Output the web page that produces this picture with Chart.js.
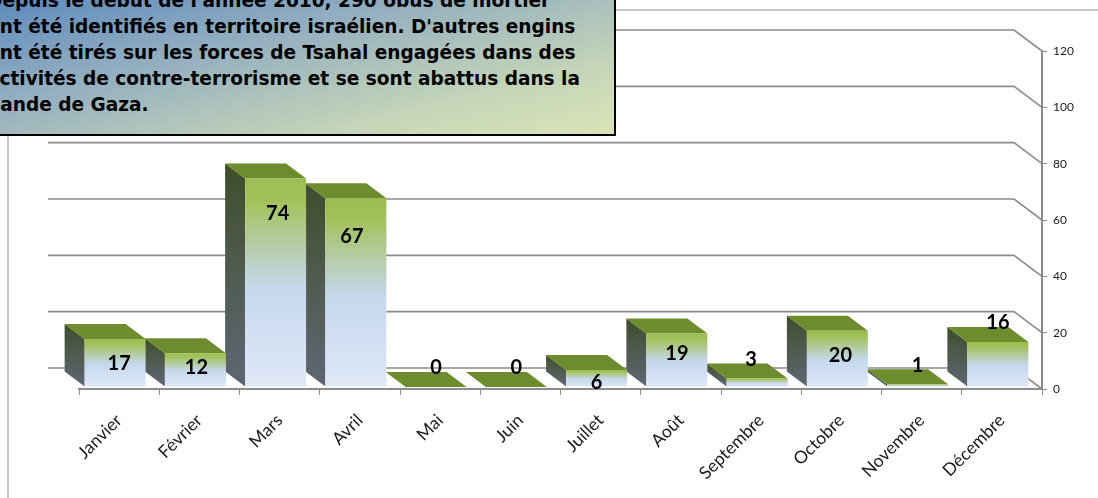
<!DOCTYPE html>
<html lang="fr">
<head>
<meta charset="utf-8">
<title>Obus de mortier 2010</title>
<script src="https://cdn.jsdelivr.net/npm/chart.js@4"></script>
<style>
  html, body { margin: 0; padding: 0; background: #fff; overflow: hidden; }
  #wrap { position: relative; width: 1098px; height: 498px; overflow: hidden; }
  #chart { position: absolute; left: 0; top: 0; }
  #note {
    position: absolute; left: -40px; top: -30px; width: 652px; height: 162px;
    border: 2px solid #000;
    background: linear-gradient(166deg, #4a7ebb 0%, #8fabc0 40%, #c5d5b8 78%, #dbe4b6 100%);
    font: bold 18.55px "DejaVu Sans", sans-serif; color: #000; white-space: nowrap;
  }
  #note div { position: absolute; left: 25px; line-height: 26px; }
</style>
</head>
<body>
<div id="wrap">
  <canvas id="chart" width="1098" height="498"></canvas>
  <div id="note"></div>
</div>
<script>
const months = ["Janvier", "Février", "Mars", "Avril", "Mai", "Juin", "Juillet", "Août", "Septembre", "Octobre", "Novembre", "Décembre"];
const obus = [17, 12, 74, 67, 0, 0, 6, 19, 3, 20, 1, 16];
const noteLines = [
  "Depuis le début de l'année 2010, 290 obus de mortier",
  "ont été identifiés en territoire israélien. D'autres engins",
  "ont été tirés sur les forces de Tsahal engagées dans des",
  "activités de contre-terrorisme et se sont abattus dans la",
  "bande de Gaza."
];

// decalage des etiquettes par rapport au haut de chaque barre
const labelDx = [0, -3, -2, -8, -4, -4, -4, -4, -10, -1, -4, -4];
const labelDy = [22, 12, 33, 36, -21, -21, 10, 18, -21, 23, -21, -21];

// le texte de l'encadre
const note = document.getElementById("note");
noteLines.forEach((line, n) => {
  const div = document.createElement("div");
  div.textContent = line;
  div.style.top = 15.5 + n * 26 + "px";
  note.appendChild(div);
});

const gray = "#8c8c8c";
const wall = { dx: 28, dy: 21 };
const depth = { dx: 20, dy: 15 };
const shift = { x: -4, y: -2 };

function frontFill(context) {
  const chart = context.chart;
  if (context.type !== "data") return "#c6d9f1";
  const top = chart.scales.y.getPixelForValue(obus[context.dataIndex]);
  const base = chart.scales.y.getPixelForValue(0);
  if (!isFinite(top) || !isFinite(base) || base - top < 1) return "#c6d9f1";
  const g = chart.ctx.createLinearGradient(0, top, 0, base);
  g.addColorStop(0, "#9bbd4f");
  g.addColorStop(0.12, "#a4c25f");
  g.addColorStop(0.52, "#c5d8ee");
  g.addColorStop(1, "#dfe8f7");
  return g;
}

// murs du fond et faces 3D des barres
const depthPlugin = {
  id: "depth",
  beforeDatasetsDraw(chart) {
    const ctx = chart.ctx;
    const yScale = chart.scales.y;
    const right = chart.chartArea.right;

    ctx.save();
    // cadre clair autour du graphique
    ctx.strokeStyle = "#c8c8c8";
    ctx.lineWidth = 2;
    ctx.beginPath();
    ctx.moveTo(610, 10);
    ctx.lineTo(1098, 10);
    ctx.moveTo(8, 130);
    ctx.lineTo(8, 498);
    ctx.stroke();

    ctx.strokeStyle = gray;
    ctx.lineWidth = 1.6;
    yScale.ticks.forEach((tick) => {
      const y = yScale.getPixelForValue(tick.value);
      ctx.beginPath();
      ctx.moveTo(48, y - wall.dy);
      ctx.lineTo(right - wall.dx, y - wall.dy);
      ctx.lineTo(right, y);
      ctx.stroke();
    });

    chart.getDatasetMeta(0).data.forEach((bar) => {
      const half = bar.width / 2;
      const x1 = bar.x - half + shift.x;
      const x2 = bar.x + half + shift.x;
      const top = bar.y + shift.y;
      const base = bar.base + shift.y;

      if (base - top > 0.5) {
        const side = ctx.createLinearGradient(0, top - depth.dy, 0, base);
        side.addColorStop(0, "#3e4d2a");
        side.addColorStop(0.45, "#4f5a4e");
        side.addColorStop(1, "#5e6673");
        ctx.fillStyle = side;
        ctx.beginPath();
        ctx.moveTo(x1, top);
        ctx.lineTo(x1 - depth.dx, top - depth.dy);
        ctx.lineTo(x1 - depth.dx, base - depth.dy);
        ctx.lineTo(x1, base);
        ctx.closePath();
        ctx.fill();
      }

      ctx.fillStyle = "#6c8c2e";
      ctx.beginPath();
      ctx.moveTo(x1, top);
      ctx.lineTo(x2, top);
      ctx.lineTo(x2 - depth.dx, top - depth.dy);
      ctx.lineTo(x1 - depth.dx, top - depth.dy);
      ctx.closePath();
      ctx.fill();
    });
    ctx.restore();

    ctx.save();
    ctx.translate(shift.x, shift.y);
  },
  afterDatasetsDraw(chart) {
    const ctx = chart.ctx;
    ctx.restore();

    ctx.save();
    ctx.font = "bold 20px Lato, sans-serif";
    ctx.fillStyle = "#000";
    ctx.textAlign = "center";
    ctx.textBaseline = "middle";
    chart.getDatasetMeta(0).data.forEach((bar, n) => {
      ctx.fillText(String(obus[n]), bar.x + labelDx[n], bar.y + labelDy[n]);
    });
    ctx.restore();
  },
};

new Chart(document.getElementById("chart"), {
  type: "bar",
  data: {
    labels: months,
    datasets: [
      {
        label: "Obus de mortier",
        data: obus,
        backgroundColor: frontFill,
        borderWidth: 0,
        barPercentage: 0.76,
        categoryPercentage: 1,
      },
    ],
  },
  options: {
    responsive: false,
    animation: false,
    layout: { padding: { left: 79, top: 51, right: 0, bottom: 0 } },
    plugins: { legend: { display: false }, tooltip: { enabled: false } },
    scales: {
      x: {
        afterFit: (scale) => { scale.height = 109; },
        border: { color: gray, width: 2 },
        grid: { offset: true, drawOnChartArea: false, color: gray, tickLength: 6 },
        ticks: {
          color: "#1a1a1a",
          font: { family: "Lato", size: 17.5 },
          minRotation: 45,
          maxRotation: 45,
          autoSkip: false,
          padding: 15,
        },
      },
      y: {
        position: "right",
        min: 0,
        max: 120,
        afterFit: (scale) => { scale.width = 56; },
        border: { color: gray, width: 2 },
        grid: { drawOnChartArea: false, color: gray, tickLength: 5 },
        ticks: {
          stepSize: 20,
          color: "#1a1a1a",
          font: { family: "Lato", size: 12 },
          padding: 6,
        },
      },
    },
  },
  plugins: [depthPlugin],
});
</script>
</body>
</html>
